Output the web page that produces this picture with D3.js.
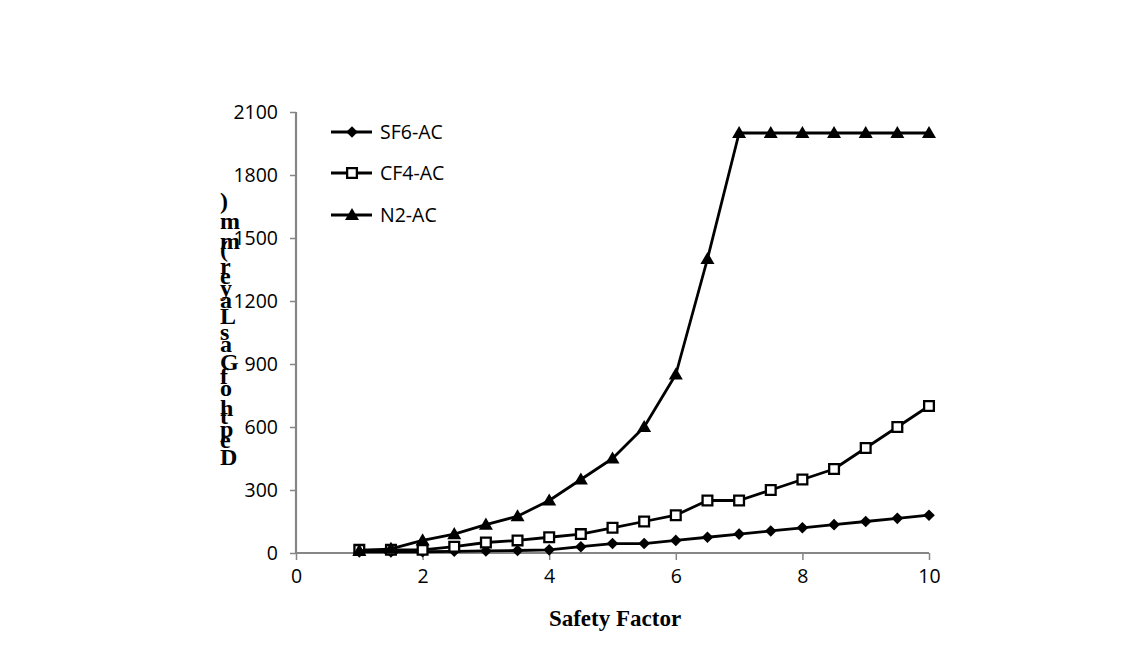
<!DOCTYPE html>
<html>
<head>
<meta charset="utf-8">
<script src="https://cdn.jsdelivr.net/npm/d3@7"></script>
<style>
html,body{margin:0;padding:0;background:#fff;}
svg{display:block;}
</style>
</head>
<body>
<svg id="chart" width="1139" height="661"></svg>
<script>
const xValues = [1,1.5,2,2.5,3,3.5,4,4.5,5,5.5,6,6.5,7,7.5,8,8.5,9,9.5,10];
const sf6 = [5,5,6,8,10,12,15,30,45,45,60,75,90,105,120,135,150,165,180];
const cf4 = [15,15,15,30,50,60,75,90,120,150,180,250,250,300,350,400,500,600,700];
const n2  = [10,20,60,90,135,175,250,350,450,600,850,1400,2000,2000,2000,2000,2000,2000,2000];
const seriesNames = ["SF6-AC","CF4-AC","N2-AC"];
const xTicks = [0,2,4,6,8,10];
const yTicks = [0,300,600,900,1200,1500,1800,2100];
const xTitle = "Safety Factor";
const yTitle = "Depth of Gas Layer (mm)";

const svg = d3.select("#chart");
const x = d3.scaleLinear().domain([0,10]).range([296,929]);
const y = d3.scaleLinear().domain([0,2100]).range([553,112]);
const axisColor = "#868686";
const tickFont = "'Open Sans', sans-serif";

// axes
const xAxis = svg.append("g").attr("transform",`translate(0,${y(0)})`)
  .call(d3.axisBottom(x).tickValues(xTicks).tickSize(7).tickPadding(9).tickFormat(d3.format("d")));
const yAxis = svg.append("g").attr("transform",`translate(${x(0)},0)`)
  .call(d3.axisLeft(y).tickValues(yTicks).tickSize(6).tickPadding(12).tickFormat(d3.format("d")));
[xAxis,yAxis].forEach(g=>{
  g.select(".domain").attr("stroke",axisColor).attr("stroke-width",2.2);
  g.selectAll(".tick line").attr("stroke",axisColor).attr("stroke-width",1.5);
  g.selectAll(".tick text").attr("fill","#000").style("font-family",tickFont).style("font-size","19.5px");
});
yAxis.select(".domain").attr("d",`M0,${y(2100)}V${y(0)}`);
xAxis.select(".domain").attr("d",`M${x(0)},0H${x(10)}`);

// series
const data = [sf6,cf4,n2].map((vals,i)=>({name:seriesNames[i], pts: xValues.map((xv,j)=>({x:xv,y:vals[j]}))}));
const line = d3.line().x(d=>x(d.x)).y(d=>y(d.y));

function drawMarker(g, i, cx, cy){
  if(i===0){
    const r = 5.8;
    g.append("path").attr("d", `M${cx},${cy-r}L${cx+r},${cy}L${cx},${cy+r}L${cx-r},${cy}Z`).attr("fill","#000");
  } else if(i===1){
    g.append("path").attr("d", d3.symbol().type(d3.symbolSquare).size(95)()).attr("transform",`translate(${cx},${cy})`).attr("fill","#fff").attr("stroke","#000").attr("stroke-width",2.3);
  } else {
    g.append("path").attr("d", d3.symbol().type(d3.symbolTriangle).size(85)()).attr("transform",`translate(${cx},${cy+1})`).attr("fill","#000");
  }
}

data.forEach((s,i)=>{
  const g = svg.append("g");
  g.append("path").datum(s.pts).attr("d",line).attr("fill","none").attr("stroke","#000").attr("stroke-width",2.8).attr("stroke-linejoin","round");
  s.pts.forEach(p=>drawMarker(g,i,x(p.x),y(p.y)));
});

// legend
const legY = [132,173,215];
data.forEach((s,i)=>{
  const g = svg.append("g");
  g.append("line").attr("x1",331).attr("x2",372).attr("y1",legY[i]).attr("y2",legY[i]).attr("stroke","#000").attr("stroke-width",2.8);
  drawMarker(g,i,352,legY[i]);
  g.append("text").attr("x",380).attr("y",legY[i]).attr("dy","0.36em").text(s.name)
    .style("font-family",tickFont).style("font-size","19.5px").attr("fill","#000");
});

// x title
svg.append("text").attr("x",615).attr("y",626).attr("text-anchor","middle").text(xTitle)
  .style("font-family","'Liberation Serif', 'Times New Roman', serif").style("font-weight","bold").style("font-size","23px").attr("fill","#000");

// y title: upright glyphs stacked along the vertical advance
const cv = document.createElement("canvas").getContext("2d");
cv.font = "bold 24px 'Liberation Serif'";
let cum = 0;
const yt = svg.append("text").style("font-family","'Liberation Serif', 'Times New Roman', serif").style("font-weight","bold").style("font-size","24px").attr("fill","#000");
for(const ch of yTitle){
  if(ch !== " "){
    yt.append("tspan").attr("x",220).attr("y",465 - cum).text(ch);
  }
  cum += cv.measureText(ch).width;
}
</script>
</body>
</html>
